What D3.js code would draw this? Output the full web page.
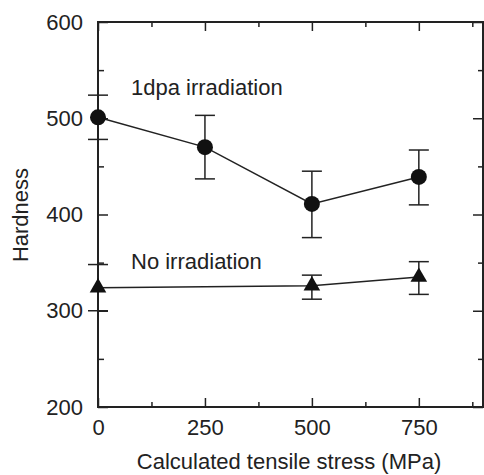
<!DOCTYPE html>
<html>
<head>
<meta charset="utf-8">
<script src="https://cdn.jsdelivr.net/npm/d3@7"></script>
<style>
  body { margin: 0; background: #fff; }
  text { font-family: "Liberation Sans", Arial, sans-serif; fill: #222; }
</style>
</head>
<body>
<div id="chart"></div>
<script>
// Data
const stress = [0, 250, 500, 750];
const irradiated = [501, 470, 411, 439];
const irradiatedLow = [478, 437, 376, 410];
const irradiatedHigh = [524, 503, 445, 467];
const unirradStress = [0, 500, 750];
const unirradValues = [324, 326, 335];
const unirradLow = [300, 312, 317];
const unirradHigh = [348, 337, 351];
const xMajor = [0, 250, 500, 750];
const xMinor = [125, 375, 625, 875];
const yMajor = [200, 300, 400, 500, 600];
const yMinor = [250, 350, 450, 550];

const W = 484, H = 475;
const margin = { top: 22, right: 1, bottom: 68, left: 98 };
const width = W - margin.left - margin.right;
const height = H - margin.top - margin.bottom;

const svg = d3.select("#chart").append("svg")
  .attr("width", W).attr("height", H);
const g = svg.append("g")
  .attr("transform", `translate(${margin.left}, ${margin.top})`);

const x = d3.scaleLinear().domain([0, 900]).range([0, width]);
const y = d3.scaleLinear().domain([200, 600]).range([height, 0]);

// axes (ticks point inward)
function styleAxis(sel) {
  sel.select(".domain").remove();
  sel.selectAll("line").attr("stroke", "#222").attr("stroke-width", 1.5);
}
g.append("g").attr("transform", `translate(0, ${height})`)
  .call(d3.axisBottom(x).tickValues(xMajor).tickSize(-9).tickPadding(12).tickFormat(d3.format("d")))
  .call(styleAxis)
  .selectAll("text").attr("font-size", 22);
g.append("g").attr("transform", `translate(0, ${height})`)
  .call(d3.axisBottom(x).tickValues(xMinor).tickSize(-5).tickFormat(""))
  .call(styleAxis);
g.append("g")
  .call(d3.axisTop(x).tickValues(xMajor).tickSize(-9).tickFormat(""))
  .call(styleAxis);
g.append("g")
  .call(d3.axisTop(x).tickValues(xMinor).tickSize(-5).tickFormat(""))
  .call(styleAxis);
g.append("g")
  .call(d3.axisLeft(y).tickValues(yMajor).tickSize(-10).tickPadding(15).tickFormat(d3.format("d")))
  .call(styleAxis)
  .selectAll("text").attr("font-size", 22);
g.append("g")
  .call(d3.axisLeft(y).tickValues(yMinor).tickSize(-6).tickFormat(""))
  .call(styleAxis);
g.append("g").attr("transform", `translate(${width}, 0)`)
  .call(d3.axisRight(y).tickValues(yMajor).tickSize(-10).tickFormat(""))
  .call(styleAxis);
g.append("g").attr("transform", `translate(${width}, 0)`)
  .call(d3.axisRight(y).tickValues(yMinor).tickSize(-5).tickFormat(""))
  .call(styleAxis);

// frame
g.append("rect")
  .attr("width", width).attr("height", height)
  .attr("fill", "none").attr("stroke", "#222").attr("stroke-width", 2);

// axis titles
svg.append("text")
  .attr("x", 289).attr("y", 469)
  .attr("text-anchor", "middle").attr("font-size", 22)
  .text("Calculated tensile stress (MPa)");
svg.append("text")
  .attr("transform", `translate(28, 215) rotate(-90)`)
  .attr("text-anchor", "middle").attr("font-size", 22)
  .text("Hardness");

// error bars
function errorBars(xs, lows, highs) {
  const cap = 10;
  xs.forEach((v, i) => {
    const bar = g.append("g").attr("stroke", "#222").attr("stroke-width", 1.5);
    bar.append("line").attr("x1", x(v)).attr("x2", x(v))
      .attr("y1", y(lows[i])).attr("y2", y(highs[i]));
    [lows[i], highs[i]].forEach((e) => {
      bar.append("line").attr("x1", x(v) - cap).attr("x2", x(v) + cap)
        .attr("y1", y(e)).attr("y2", y(e));
    });
  });
}
errorBars(stress, irradiatedLow, irradiatedHigh);
errorBars(unirradStress, unirradLow, unirradHigh);

// lines
const line = d3.line().x((d) => x(d[0])).y((d) => y(d[1]));
g.append("path")
  .datum(d3.zip(stress, irradiated))
  .attr("fill", "none").attr("stroke", "#222").attr("stroke-width", 1.5)
  .attr("d", line);
g.append("path")
  .datum(d3.zip(unirradStress, unirradValues))
  .attr("fill", "none").attr("stroke", "#222").attr("stroke-width", 1.5)
  .attr("d", line);

// markers
g.selectAll(".dot")
  .data(d3.zip(stress, irradiated))
  .enter().append("circle")
  .attr("class", "dot")
  .attr("cx", (d) => x(d[0])).attr("cy", (d) => y(d[1]))
  .attr("r", 8).attr("fill", "#111");
g.selectAll(".tri")
  .data(d3.zip(unirradStress, unirradValues))
  .enter().append("path")
  .attr("class", "tri")
  .attr("transform", (d) => `translate(${x(d[0])}, ${y(d[1])})`)
  .attr("d", d3.symbol().type(d3.symbolTriangle).size(120))
  .attr("fill", "#111");

// series labels
svg.append("text")
  .attr("x", 131).attr("y", 95).attr("font-size", 22)
  .text("1dpa irradiation");
svg.append("text")
  .attr("x", 131).attr("y", 269).attr("font-size", 22)
  .text("No irradiation");
</script>
</body>
</html>
